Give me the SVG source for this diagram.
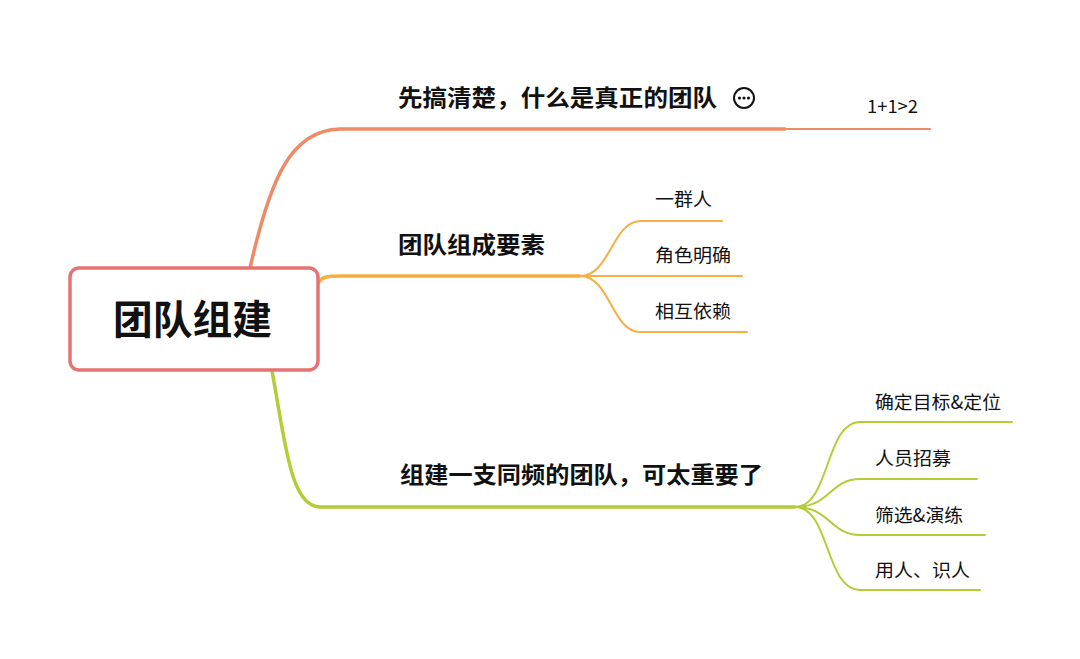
<svg xmlns="http://www.w3.org/2000/svg" width="1080" height="659" viewBox="0 0 1080 659">
<style>
.t{font-family:"Noto Sans CJK SC","Liberation Sans",sans-serif;fill:#111}
.b{font-size:23px;font-weight:bold}
.s{font-size:18px}
.c{fill:none;stroke-linecap:round}
</style>
<rect width="1080" height="659" fill="#fff"/>
<g id="connectors">
<path class="c" d="M250 268 C270 180 290 130 340 129 L785 129" stroke="#ef8a66" stroke-width="3.5"/>
<path class="c" d="M785 129 L930 129" stroke="#ef8a66" stroke-width="2"/>
<path class="c" d="M318 283 C322 277 326 276 340 276 L580 276" stroke="#f5b041" stroke-width="3.5"/>
<path class="c" d="M580 276 C610 276 612 222 640 221 L722 221 M580 276 L742 276 M580 276 C610 276 612 332 640 332 L747 332" stroke="#f5b041" stroke-width="2"/>
<path class="c" d="M272 371 C285 440 290 507 320 507 L795 507" stroke="#b5cc37" stroke-width="3.5"/>
<path class="c" d="M795 507 C830 507 825 422 860 422 L1012 422 M795 507 C830 507 830 479 860 479 L977 479 M795 507 C830 507 830 535 860 535 L985 535 M795 507 C830 507 825 590 860 590 L980 590" stroke="#b5cc37" stroke-width="2"/>
</g>
<g id="root"><rect x="70" y="268" width="248" height="102" rx="9" fill="#fff" stroke="#e57373" stroke-width="3.5"/><text class="t" x="113" y="334" font-size="40" font-weight="bold" textLength="159" lengthAdjust="spacingAndGlyphs">团队组建</text></g>
<g id="n1"><text class="t b" x="398" y="106" textLength="319" lengthAdjust="spacingAndGlyphs">先搞清楚，什么是真正的团队</text>
<circle cx="744" cy="98" r="10" fill="none" stroke="#111" stroke-width="2"/><circle cx="739.5" cy="98" r="1.6" fill="#111"/><circle cx="744" cy="98" r="1.6" fill="#111"/><circle cx="748.5" cy="98" r="1.6" fill="#111"/></g>
<g id="n1a"><text class="t s" x="867" y="113" textLength="51" lengthAdjust="spacingAndGlyphs">1+1&gt;2</text></g>
<g id="n2"><text class="t b" x="398" y="253" textLength="147" lengthAdjust="spacingAndGlyphs">团队组成要素</text></g>
<g id="n2a"><text class="t s" x="655" y="206" textLength="57" lengthAdjust="spacingAndGlyphs">一群人</text></g>
<g id="n2b"><text class="t s" x="655" y="262" textLength="76" lengthAdjust="spacingAndGlyphs">角色明确</text></g>
<g id="n2c"><text class="t s" x="655" y="318" textLength="76" lengthAdjust="spacingAndGlyphs">相互依赖</text></g>
<g id="n3"><text class="t b" x="400" y="483" textLength="363" lengthAdjust="spacingAndGlyphs">组建一支同频的团队，可太重要了</text></g>
<g id="n3a"><text class="t s" x="875" y="409" textLength="126" lengthAdjust="spacingAndGlyphs">确定目标&amp;定位</text></g>
<g id="n3b"><text class="t s" x="875" y="465" textLength="76" lengthAdjust="spacingAndGlyphs">人员招募</text></g>
<g id="n3c"><text class="t s" x="875" y="522" textLength="88" lengthAdjust="spacingAndGlyphs">筛选&amp;演练</text></g>
<g id="n3d"><text class="t s" x="875" y="577" textLength="95" lengthAdjust="spacingAndGlyphs">用人、识人</text></g>
</svg>
